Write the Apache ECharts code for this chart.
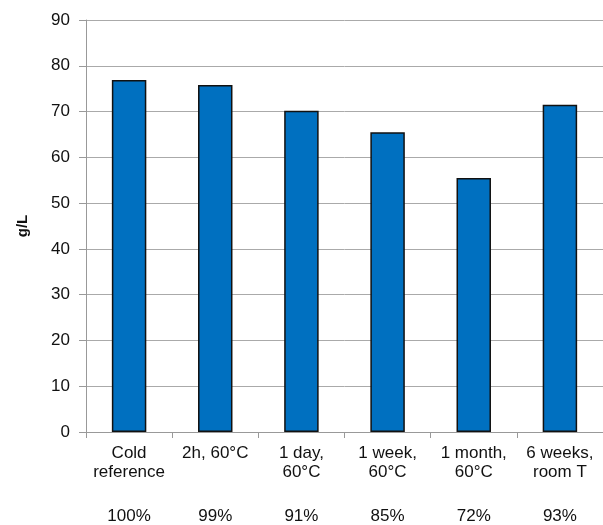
<!DOCTYPE html>
<html><head><meta charset="utf-8">
<script src="https://cdn.jsdelivr.net/npm/echarts@6/dist/echarts.min.js"></script>
<style>html,body{margin:0;padding:0;background:#fff}#c{width:603px;height:525px}</style>
</head><body><div id="c"></div>
<script>
const categories = ['Cold\nreference', '2h, 60°C', '1 day,\n60°C', '1 week,\n60°C', '1 month,\n60°C', '6 weeks,\nroom T'];
const values = [76.9, 75.8, 70.2, 65.5, 55.5, 71.5];
const percents = ['100%', '99%', '91%', '85%', '72%', '93%'];
const yTicks = [0, 10, 20, 30, 40, 50, 60, 70, 80, 90];

const font = 'Liberation Sans, Arial, sans-serif';
const chart = echarts.init(document.getElementById('c'), null, {renderer: 'canvas'});
chart.setOption({
  animation: false,
  backgroundColor: '#fff',
  grid: {left: 86, width: 522, top: 20, height: 415, containLabel: false},
  xAxis: [{
    type: 'category', data: categories, position: 'bottom',
    axisLine: {lineStyle: {color: '#999', width: 1}},
    axisTick: {show: true, length: 6, lineStyle: {color: '#999'}},
    axisLabel: {color: '#111', fontFamily: font, fontSize: 17, lineHeight: 19, margin: 12, interval: 0}
  }, {
    type: 'category', data: percents, position: 'bottom', offset: 0,
    axisLine: {show: false}, axisTick: {show: false},
    axisLabel: {color: '#111', fontFamily: font, fontSize: 17, margin: 76, interval: 0}
  }],
  yAxis: {
    type: 'value', min: yTicks[0], max: yTicks[yTicks.length - 1], interval: 10,
    name: 'g/L', nameLocation: 'middle', nameGap: 56, nameRotate: 90,
    nameTextStyle: {color: '#111', fontFamily: font, fontSize: 15, fontWeight: 'bold'},
    axisLine: {show: true, lineStyle: {color: '#999'}},
    axisTick: {show: true, length: 7, lineStyle: {color: '#999'}},
    axisLabel: {color: '#111', fontFamily: font, fontSize: 17, margin: 16},
    splitLine: {show: true, lineStyle: {color: '#aaa', width: 1}}
  },
  series: [{
    type: 'bar', data: values, xAxisIndex: 0, barWidth: '40%',
    itemStyle: {color: '#0070C0', borderColor: '#111', borderWidth: 1.5}
  }]
});
</script></body></html>
